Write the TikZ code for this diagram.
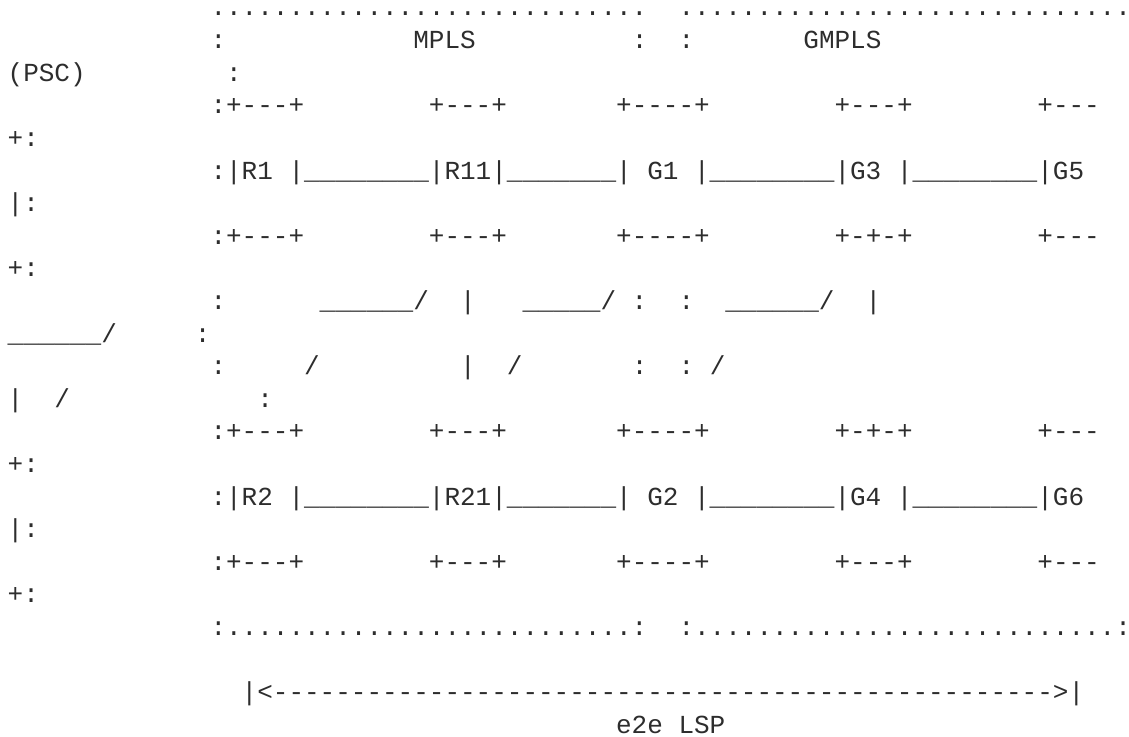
\documentclass[tikz,border=0pt]{standalone}
\usepackage{fontspec}
\setmonofont{Liberation Mono}
\definecolor{ink}{RGB}{45,45,45}
\newcommand{\reps}[2]{\foreach \ri in {1,...,#1}{#2}}
\tikzset{
  txt/.style={anchor=base west, inner sep=0pt, outer sep=0pt,
    font=\fontsize{26}{26}\selectfont\ttfamily, text=ink},
  dotrow/.style={txt, text height=4pt, text depth=0pt}
}
% column c, row r  ->  position of the first character
\newcommand{\asciirow}[5][txt]{\node[#1] (#2) at ({7.7+15.6*(#3)},{-16-32.6*((#4)-1)}) {#5};}
\begin{document}
\begin{tikzpicture}[x=1pt,y=1pt]
\fill[white] (0,0) rectangle (1129,-736);
\useasboundingbox (0,0) rectangle (1129,-736);
\asciirow[dotrow]{row1}{13}{1}{\reps{28}{.}~~\reps{29}{.}}
\asciirow{row2}{13}{2}{:\reps{12}{~}MPLS\reps{10}{~}:~~:\reps{7}{~}GMPLS}
\asciirow{row3}{0}{3}{(PSC)\reps{9}{~}:}
\asciirow{row4}{13}{4}{:+---+\reps{8}{~}+---+\reps{7}{~}+----+\reps{8}{~}+---+\reps{8}{~}+---}
\asciirow{row5}{0}{5}{+:}
\asciirow{row6}{13}{6}{:|R1~|\reps{8}{\_}|R11|\reps{7}{\_}|~G1~|\reps{8}{\_}|G3~|\reps{8}{\_}|G5}
\asciirow{row7}{0}{7}{|:}
\asciirow{row8}{13}{8}{:+---+\reps{8}{~}+---+\reps{7}{~}+----+\reps{8}{~}+-+-+\reps{8}{~}+---}
\asciirow{row9}{0}{9}{+:}
\asciirow{row10}{13}{10}{:\reps{6}{~}\reps{6}{\_}/~~|~~~\reps{5}{\_}/~:~~:~~\reps{6}{\_}/~~|}
\asciirow{row11}{0}{11}{\reps{6}{\_}/\reps{5}{~}:}
\asciirow{row12}{13}{12}{:\reps{5}{~}/\reps{9}{~}|~~/\reps{7}{~}:~~:~/}
\asciirow{row13}{0}{13}{|~~/\reps{12}{~}:}
\asciirow{row14}{13}{14}{:+---+\reps{8}{~}+---+\reps{7}{~}+----+\reps{8}{~}+-+-+\reps{8}{~}+---}
\asciirow{row15}{0}{15}{+:}
\asciirow{row16}{13}{16}{:|R2~|\reps{8}{\_}|R21|\reps{7}{\_}|~G2~|\reps{8}{\_}|G4~|\reps{8}{\_}|G6}
\asciirow{row17}{0}{17}{|:}
\asciirow{row18}{13}{18}{:+---+\reps{8}{~}+---+\reps{7}{~}+----+\reps{8}{~}+---+\reps{8}{~}+---}
\asciirow{row19}{0}{19}{+:}
\asciirow{row20}{13}{20}{:\reps{26}{.}:~~:\reps{27}{.}:}
\asciirow{row22}{15}{22}{|<\reps{50}{-}>|}
\asciirow{row23}{39}{23}{e2e~LSP}
\end{tikzpicture}
\end{document}
